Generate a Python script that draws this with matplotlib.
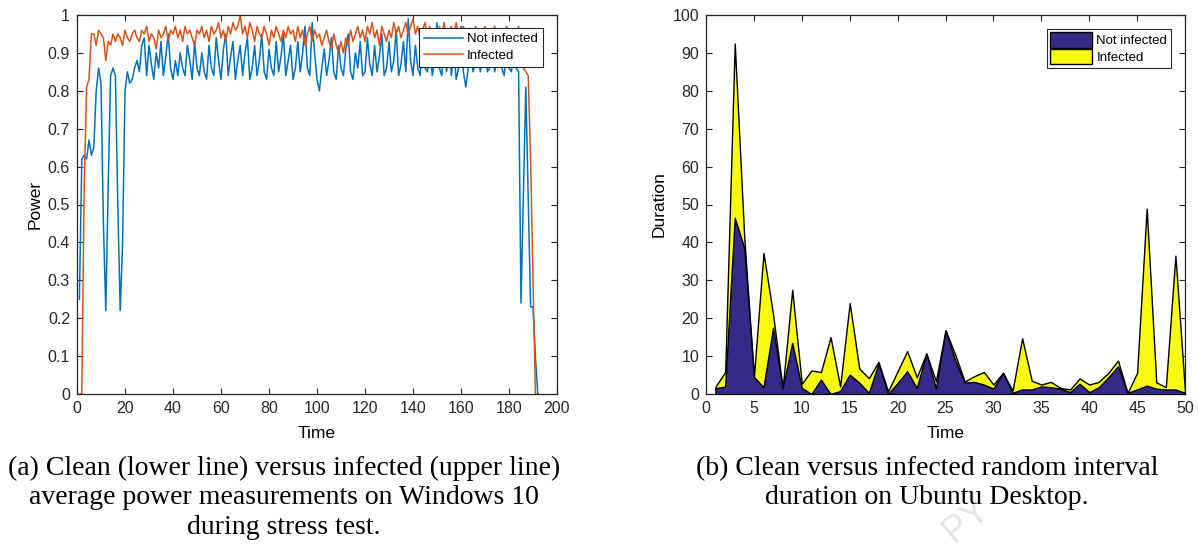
import numpy as np
import matplotlib
matplotlib.use('Agg')
from matplotlib import pyplot as plt

# (a) average power during stress test, one sample per time step
power_clean = [
    0.25, 0.62, 0.63, 0.62, 0.67, 0.63, 0.65, 0.80, 0.86, 0.82,
    0.45, 0.22, 0.55, 0.84, 0.86, 0.84, 0.50, 0.22, 0.40, 0.80,
    0.85, 0.82, 0.83, 0.86, 0.88, 0.85, 0.92, 0.94, 0.84, 0.92,
    0.87, 0.83, 0.90, 0.86, 0.93, 0.84, 0.89, 0.95, 0.86, 0.83,
    0.88, 0.84, 0.90, 0.86, 0.84, 0.92, 0.88, 0.83, 0.93, 0.86,
    0.84, 0.90, 0.85, 0.83, 0.92, 0.86, 0.84, 0.94, 0.88, 0.83,
    0.91, 0.95, 0.84, 0.89, 0.93, 0.83, 0.88, 0.92, 0.84, 0.90,
    0.94, 0.83, 0.86, 0.92, 0.84, 0.88, 0.95, 0.85, 0.83, 0.91,
    0.86, 0.84, 0.93, 0.85, 0.89, 0.95, 0.84, 0.88, 0.92, 0.83,
    0.86, 0.93, 0.85, 0.90, 0.97, 0.86, 0.84, 0.98, 0.90, 0.83,
    0.80, 0.86, 0.91, 0.84, 0.88, 0.94, 0.85, 0.83, 0.92, 0.86,
    0.84, 0.91, 0.95, 0.85, 0.83, 0.90, 0.86, 0.93, 0.84, 0.85,
    0.94, 0.87, 0.84, 0.92, 0.85, 0.89, 0.95, 0.84, 0.86, 0.93,
    0.85, 0.88, 0.96, 0.84, 0.87, 0.93, 0.85, 0.99, 0.88, 0.84,
    0.92, 0.86, 0.84, 0.94, 0.86, 0.85, 0.93, 0.84, 0.88, 0.98,
    0.86, 0.84, 0.92, 0.85, 0.93, 0.84, 0.91, 0.83, 0.86, 0.97,
    0.85, 0.81, 0.86, 0.93, 0.85, 0.87, 0.94, 0.85, 0.88, 0.93,
    0.85, 0.86, 0.92, 0.85, 0.88, 0.94, 0.86, 0.84, 0.92, 0.86,
    0.85, 0.90, 0.86, 0.85, 0.24, 0.52, 0.81, 0.52, 0.23, 0.23,
    0.10, 0.00,
]
power_infected = [
    0.00, 0.00, 0.55, 0.81, 0.83, 0.95, 0.95, 0.92, 0.96, 0.95,
    0.94, 0.88, 0.93, 0.92, 0.95, 0.93, 0.95, 0.94, 0.92, 0.96,
    0.94, 0.93, 0.95, 0.96, 0.94, 0.93, 0.96, 0.95, 0.97, 0.93,
    0.95, 0.94, 0.91, 0.96, 0.94, 0.95, 0.97, 0.93, 0.96, 0.95,
    0.97, 0.94, 0.96, 0.93, 0.97, 0.95, 0.96, 0.94, 0.92, 0.96,
    0.95, 0.97, 0.94, 0.96, 0.93, 0.97, 0.95, 0.96, 0.98, 0.94,
    0.96, 0.93, 0.97, 0.95, 0.98, 0.96, 0.97, 1.00, 0.95, 0.97,
    0.94, 0.98, 0.96, 0.93, 0.97, 0.95, 0.94, 0.97, 0.95, 0.92,
    0.96, 0.94, 0.97, 0.95, 0.93, 0.96, 0.94, 0.97, 0.95, 0.96,
    0.93, 0.97, 0.94, 0.96, 0.92, 0.95, 0.97, 0.93, 0.96, 0.94,
    0.95, 0.92, 0.94, 0.96, 0.93, 0.91, 0.95, 0.92, 0.90, 0.93,
    0.90, 0.94, 0.92, 0.96, 0.93, 0.95, 0.97, 0.94, 0.96, 0.93,
    0.97, 0.95, 0.98, 0.94, 0.96, 0.92, 0.97, 0.95, 0.93, 0.96,
    0.94, 0.98, 0.95, 0.97, 0.94, 0.96, 0.98, 0.95, 0.97, 0.99,
    0.95, 0.97, 0.94, 0.96, 0.98, 0.95, 0.97, 0.93, 0.96, 0.94,
    0.97, 0.95, 0.98, 0.94, 0.96, 0.97, 0.95, 0.98, 0.94, 0.96,
    0.97, 0.95, 0.93, 0.96, 0.94, 0.97, 0.95, 0.96, 0.94, 0.97,
    0.95, 0.96, 0.94, 0.97, 0.95, 0.93, 0.96, 0.94, 0.97, 0.95,
    0.94, 0.96, 0.95, 0.97, 0.88, 0.86, 0.85, 0.84, 0.62, 0.30,
    0.00, 0.00,
]

# (b) random interval duration on Ubuntu, t = 1..50
duration_clean = [
    1.5, 2.0, 46.5, 38.5, 4.5, 1.8, 17.5, 1.5, 13.5, 1.6,
    0.0, 3.8, 0.0, 0.8, 5.1, 3.0, 0.3, 8.0, 0.0, 2.9,
    6.0, 1.6, 10.7, 1.4, 16.8, 9.0, 3.0, 3.2, 2.5, 1.4,
    5.6, 0.3, 1.2, 1.2, 2.0, 1.8, 1.4, 0.5, 2.7, 0.5,
    1.8, 4.4, 7.3, 0.3, 1.2, 2.2, 1.4, 1.2, 1.2, 0.3,
]
duration_infected = [
    2.0, 5.8, 92.5, 41.0, 4.5, 37.2, 21.0, 1.5, 27.5, 2.7,
    6.2, 5.8, 15.0, 2.0, 24.0, 6.7, 4.2, 8.5, 0.7, 6.0,
    11.3, 4.4, 10.7, 3.4, 16.8, 10.5, 3.3, 4.7, 5.8, 2.5,
    5.6, 0.9, 14.7, 3.5, 2.5, 3.2, 1.6, 1.2, 4.1, 2.5,
    3.2, 5.6, 8.8, 0.3, 5.6, 48.9, 3.1, 1.8, 36.5, 0.7,
]

plt.rcParams['font.family'] = ['Liberation Sans', 'DejaVu Sans']
plt.rcParams['font.size'] = 11.5


def style_axes(ax):
    ax.tick_params(direction='in', top=True, right=True, length=4.5, width=0.8,
                   colors='#262626', labelcolor='#262626', pad=5)
    for s in ax.spines.values():
        s.set_color('#262626')
        s.set_linewidth(0.9)


fig = plt.figure(figsize=(11.98, 5.5), dpi=100)

# left panel
ax1 = fig.add_axes([77 / 1198, 1 - 394 / 550, 480 / 1198, 379 / 550])
t1 = np.arange(1, len(power_clean) + 1)
ax1.plot(t1, power_clean, color='#0072BD', lw=1.1, label='Not infected')
ax1.plot(t1, power_infected, color='#D95319', lw=1.1, label='Infected')
ax1.set_xlim(0, 200)
ax1.set_ylim(0, 1)
ax1.set_xticks(np.arange(0, 201, 20))
ax1.set_yticks(np.arange(0, 1.01, 0.1))
ax1.set_yticklabels(['0', '0.1', '0.2', '0.3', '0.4', '0.5', '0.6', '0.7', '0.8', '0.9', '1'])
ax1.set_xlabel('Time', fontsize=12.5, labelpad=7)
ax1.set_ylabel('Power', fontsize=12.5, labelpad=4)
style_axes(ax1)
leg1 = ax1.legend(loc='upper right', bbox_to_anchor=(0.97, 0.965), fontsize=9.5,
                  fancybox=False, framealpha=1, edgecolor='#262626',
                  handlelength=3.0, borderpad=0.35, labelspacing=0.35,
                  handletextpad=0.3, borderaxespad=0)
leg1.get_frame().set_linewidth(0.8)

# right panel
ax2 = fig.add_axes([706 / 1198, 1 - 394 / 550, 479 / 1198, 379 / 550])
t2 = np.arange(1, len(duration_clean) + 1)
ax2.fill_between(t2, 0, duration_infected, facecolor='#F9FB0E', edgecolor='black',
                 lw=1.0, label='Infected', zorder=2)
ax2.fill_between(t2, 0, duration_clean, facecolor='#352A87', edgecolor='black',
                 lw=1.0, label='Not infected', zorder=3)
ax2.set_xlim(0, 50)
ax2.set_ylim(0, 100)
ax2.set_xticks(np.arange(0, 51, 5))
ax2.set_yticks(np.arange(0, 101, 10))
ax2.set_xlabel('Time', fontsize=12.5, labelpad=7)
ax2.set_ylabel('Duration', fontsize=12.5, labelpad=4)
style_axes(ax2)
h, l = ax2.get_legend_handles_labels()
leg2 = ax2.legend(h[::-1], l[::-1], loc='upper right', bbox_to_anchor=(0.97, 0.963),
                  fontsize=9.5, fancybox=False, framealpha=1, edgecolor='#262626',
                  handlelength=3.2, handleheight=1.4, borderpad=0.25, labelspacing=0.12,
                  handletextpad=0.3, borderaxespad=0)
leg2.get_frame().set_linewidth(0.8)

# faint watermark fragment
fig.text(966 / 1198, 1 - 520 / 550, 'PY', ha='center', va='center', fontsize=26,
         rotation=40, color='#e4e4e4', family=['Liberation Sans', 'DejaVu Sans'], zorder=0)

# captions
cap = dict(ha='center', va='top', fontsize=20, family=['Liberation Serif', 'DejaVu Serif'],
           linespacing=1.22)
fig.text(284 / 1198, 1 - 456 / 550,
         '(a) Clean (lower line) versus infected (upper line)\n'
         'average power measurements on Windows 10\n'
         'during stress test.', **cap)
fig.text(927 / 1198, 1 - 456 / 550,
         '(b) Clean versus infected random interval\n'
         'duration on Ubuntu Desktop.', **cap)

fig.savefig('out.png', dpi=100)
